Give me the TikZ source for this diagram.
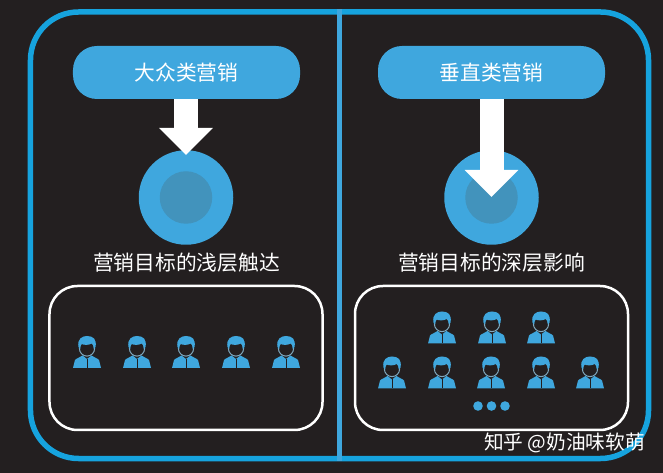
\documentclass[tikz,border=0pt]{standalone}
\usepackage{fontspec}
\setmainfont{Noto Sans CJK SC}
\usepackage{xcolor}
\usetikzlibrary{arrows.meta, positioning}

\definecolor{bgdark}{HTML}{231F20}
\definecolor{framecyan}{HTML}{16A3DE}
\definecolor{pillblue}{HTML}{3FA7DE}
\definecolor{coreblue}{HTML}{4293BC}
\definecolor{ringgrey}{HTML}{7FA8BE}

\tikzset{
  pill/.style={fill=pillblue,rounded corners=4.8mm,minimum width=45.4mm,minimum height=10.6mm,
    text=white,font=\fontsize{11.8pt}{14pt}\selectfont,inner sep=0pt},
  caption/.style={text=white,font=\fontsize{11.8pt}{14pt}\selectfont,inner sep=0pt},
  disc/.style={circle,fill=pillblue,minimum size=18.9mm,inner sep=0pt},
  core/.style={circle,fill=coreblue,minimum size=10.5mm,inner sep=0pt},
  crowd/.style={draw=white,line width=0.5mm,rounded corners=5.6mm,minimum width=54.6mm,minimum height=28.8mm},
  blockarrow/.style={white,line width=4.8mm,-{Triangle[width=10.4mm,length=5.4mm]}},
  person/.pic={
    \draw[ringgrey,line width=0.2mm] (0,-3.5) ellipse (7.6 and 7.6);
    \fill[pillblue] (-8.5,-5) .. controls (-10,-13) and (-5,-16) .. (0,-16)
      .. controls (6,-16) and (10,-13) .. (8.5,-5) -- (6.8,-3)
      .. controls (6.5,-6) and (6,-7.5) .. (5,-8.5) .. controls (1,-6.5) and (-3,-7) .. (-5.5,-8)
      .. controls (-6.5,-6.5) and (-6.8,-5) .. (-6.8,-3) -- cycle;
    \fill[pillblue] (-14,16) -- (-12,8) .. controls (-11,6.5) and (-7,5.5) .. (-4.5,3.5)
      -- (0,7) -- (4.5,3.5) .. controls (7,5.5) and (11,6.5) .. (12,8) -- (14,16) -- cycle;
    \draw[bgdark,line width=0.2mm] (0,7) -- (0,16);
  },
}

\begin{document}
\begin{tikzpicture}[x=0.2mm,y=-0.2mm]
  \fill[bgdark] (0,0) rectangle (663,473);
  \useasboundingbox (0,0) rectangle (663,473);

  % outer frame and divider
  \node[draw=framecyan,line width=1.1mm,rounded corners=9.6mm,minimum width=123.6mm,minimum height=89.3mm] (frame) at (339.5,235.25) {};
  \draw[pillblue,line width=1mm] (frame.north) -- (frame.south);

  % left side
  \node[pill] (massPill) at (186.5,72.5) {大众类营销};
  \node[disc] (massDisc) at (186,197.5) {};
  \node[core] (massCore) at (massDisc) {};
  \coordinate (massTip) at (186,155);
  \draw[blockarrow] (massPill.south -| massTip) -- (massTip);
  \node[caption] (massText) at (186.5,263) {营销目标的浅层触达};
  \node[crowd] (massBox) at (186,358) {};

  % right side
  \node[pill] (deepPill) at (491.5,72.5) {垂直类营销};
  \node[disc] (deepDisc) at (491.5,197.5) {};
  \node[core] (deepCore) at (deepDisc) {};
  \coordinate (deepTip) at (491.5,197);
  \draw[blockarrow] (deepPill.south) -- (deepTip);
  \node[caption] (deepText) at (491.5,263) {营销目标的深层影响};
  \node[crowd] (deepBox) at (491.5,358) {};

  % people
  \foreach \x in {87,137,186,236,286}
    \pic at (\x,352) {person};
  \foreach \x in {442,492,541}
    \pic at (\x,327.5) {person};
  \foreach \x in {392,442,491,541,590}
    \pic at (\x,372.5) {person};
  \foreach \x in {478,491.5,505}
    \fill[pillblue] (\x,406) circle (4.8);

  \node[text=white,inner sep=0pt,font=\fontsize{11.2pt}{13pt}\selectfont] (mark) at (564.5,442.5) {知乎 @奶油味软萌};
\end{tikzpicture}
\end{document}
